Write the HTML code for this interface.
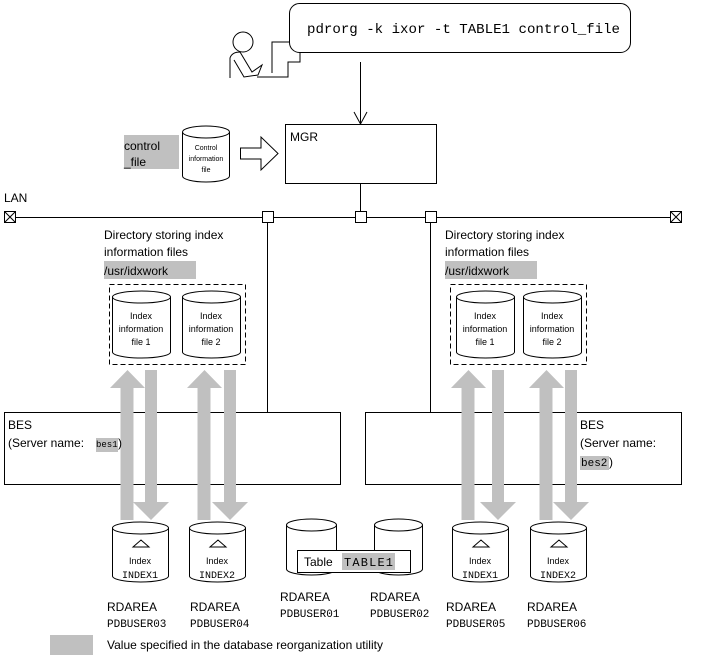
<!DOCTYPE html>
<html><head><meta charset="utf-8"><style>
html,body{margin:0;padding:0;background:#fff}
svg{display:block}
text{font-family:"Liberation Sans",sans-serif;font-size:12px;fill:#000}
.m{font-family:"Liberation Mono",monospace}
</style></head><body>
<svg width="701" height="658" viewBox="0 0 701 658" xmlns="http://www.w3.org/2000/svg">
<defs>
<g id="up"><polygon points="0,18 17.5,0 35,18 23.5,18 23.5,150 10.5,150 10.5,18" fill="#c0c0c0"/></g>
<g id="dn"><polygon points="12,0 24,0 24,132 36,132 18,150 0,132 12,132" fill="#c0c0c0"/></g>
</defs>
<g fill="none" stroke="#000" stroke-width="1">
<rect x="289.5" y="3.5" width="341" height="49" rx="10"/>
<circle cx="243" cy="42" r="10"/>
<path d="M230 78 V58 Q232 52 240 52 L252 72 L262 65 L258 75 L244 77 L234 60"/>
<path d="M257 77 H288 V62 H300 V52"/>
<path d="M272 73 V42 H289"/>
<path d="M360.5 62 V123 M354 112 L360.5 124 L367 112"/>
<rect x="285.5" y="124.5" width="151" height="59"/>
<path d="M182.5 132 V176 A23.5 6 0 0 0 229.5 176 V132"/>
<ellipse cx="206" cy="132" rx="23.5" ry="6"/>
<path d="M240.5 148 H261 V137 L278 153.5 L261 170 V159 H240.5 Z"/>
<path d="M15 217.5 H670"/>
<rect x="4.5" y="211.5" width="11" height="11"/><path d="M4.5 211.5 L15.5 222.5 M15.5 211.5 L4.5 222.5"/>
<rect x="670.5" y="211.5" width="11" height="11"/><path d="M670.5 211.5 L681.5 222.5 M681.5 211.5 L670.5 222.5"/>
<rect x="262.5" y="211.5" width="11" height="11" fill="#fff"/>
<rect x="355.5" y="211.5" width="11" height="11" fill="#fff"/>
<rect x="425.5" y="211.5" width="11" height="11" fill="#fff"/>
<path d="M360.5 184 V211 M267.5 223 V412 M430.5 223 V412"/>
<rect x="109.5" y="284.5" width="136" height="80" stroke-dasharray="5,3"/>
<rect x="450.5" y="284.5" width="136" height="80" stroke-dasharray="5,3"/>
</g>
<g fill="#c0c0c0">
<rect x="124" y="135" width="55" height="34"/>
<rect x="104" y="261" width="92" height="18"/>
<rect x="445" y="261" width="92" height="18"/>
<rect x="50" y="635" width="43" height="20"/>
</g>
<rect x="4.5" y="412.5" width="336" height="72" fill="#fff" stroke="#000"/>
<rect x="365.5" y="412.5" width="316" height="72" fill="#fff" stroke="#000"/>
<rect x="96" y="438" width="22" height="14" fill="#c0c0c0"/>
<rect x="580" y="456" width="29" height="14" fill="#c0c0c0"/>
<use href="#up" x="110" y="370"/><use href="#dn" x="133" y="370"/>
<use href="#up" x="187" y="370"/><use href="#dn" x="212" y="370"/>
<use href="#up" x="451" y="370"/><use href="#dn" x="480" y="370"/>
<use href="#up" x="529" y="370"/><use href="#dn" x="553" y="370"/>
<g fill="#fff" stroke="#000">
<path d="M112.5 297 V352 A29 6 0 0 0 170.5 352 V297"/><ellipse cx="141.5" cy="297" rx="29" ry="6"/>
<path d="M182.5 297 V352 A29 6 0 0 0 240.5 352 V297"/><ellipse cx="211.5" cy="297" rx="29" ry="6"/>
<path d="M456.5 297 V352 A29 6 0 0 0 514.5 352 V297"/><ellipse cx="485.5" cy="297" rx="29" ry="6"/>
<path d="M523.5 297 V352 A29 6 0 0 0 581.5 352 V297"/><ellipse cx="552.5" cy="297" rx="29" ry="6"/>
<path d="M112.5 528 V576 A28 6 0 0 0 168.5 576 V528"/><ellipse cx="140.5" cy="528" rx="28" ry="6"/>
<path d="M189.5 528 V576 A28 6 0 0 0 245.5 576 V528"/><ellipse cx="217.5" cy="528" rx="28" ry="6"/>
<path d="M452.5 528 V576 A28 6 0 0 0 508.5 576 V528"/><ellipse cx="480.5" cy="528" rx="28" ry="6"/>
<path d="M530.5 528 V576 A28 6 0 0 0 586.5 576 V528"/><ellipse cx="558.5" cy="528" rx="28" ry="6"/>
<path d="M286.5 525 V569 A25 6 0 0 0 336.5 569 V525"/><ellipse cx="311.5" cy="525" rx="25" ry="6"/>
<path d="M374.5 525 V569 A24 6 0 0 0 422.5 569 V525"/><ellipse cx="398.5" cy="525" rx="24" ry="6"/>
<rect x="297.5" y="550.5" width="113" height="22"/>
</g>
<rect x="342" y="553" width="53" height="17" fill="#c0c0c0"/>
<g fill="none" stroke="#000">
<path d="M133 547 L141 540 L149 547 Z M210 547 L218 540 L226 547 Z M473 547 L481 540 L489 547 Z M551 547 L559 540 L567 547 Z"/>
</g>
<text x="307" y="33" class="m" style="font-size:14px" textLength="313" lengthAdjust="spacingAndGlyphs">pdrorg -k ixor -t TABLE1 control_file</text>
<text x="290" y="141">MGR</text>
<text x="124" y="150">control</text>
<text x="124" y="166">_file</text>
<text x="206" y="150" text-anchor="middle" style="font-size:7px">Control</text>
<text x="206" y="161" text-anchor="middle" style="font-size:7px">information</text>
<text x="206" y="172" text-anchor="middle" style="font-size:7px">file</text>
<text x="4" y="202">LAN</text>
<text x="104" y="239">Directory storing index</text>
<text x="104" y="256">information files</text>
<text x="104" y="275">/usr/idxwork</text>
<text x="445" y="239">Directory storing index</text>
<text x="445" y="256">information files</text>
<text x="445" y="275">/usr/idxwork</text>
<g text-anchor="middle">
<text x="141" y="319" style="font-size:9px">Index</text><text x="141" y="332" style="font-size:9px">information</text><text x="141" y="345" style="font-size:9px">file 1</text>
<text x="211" y="319" style="font-size:9px">Index</text><text x="211" y="332" style="font-size:9px">information</text><text x="211" y="345" style="font-size:9px">file 2</text>
<text x="485" y="319" style="font-size:9px">Index</text><text x="485" y="332" style="font-size:9px">information</text><text x="485" y="345" style="font-size:9px">file 1</text>
<text x="552" y="319" style="font-size:9px">Index</text><text x="552" y="332" style="font-size:9px">information</text><text x="552" y="345" style="font-size:9px">file 2</text>
<text x="140" y="564" style="font-size:9px">Index</text><text x="140" y="578" class="m" style="font-size:10px">INDEX1</text>
<text x="217" y="564" style="font-size:9px">Index</text><text x="217" y="578" class="m" style="font-size:10px">INDEX2</text>
<text x="480" y="564" style="font-size:9px">Index</text><text x="480" y="578" class="m" style="font-size:10px">INDEX1</text>
<text x="558" y="564" style="font-size:9px">Index</text><text x="558" y="578" class="m" style="font-size:10px">INDEX2</text>
</g>
<text x="8" y="429">BES</text>
<text x="8" y="447">(Server name:</text>
<text x="96" y="447" class="m" style="font-size:9px">bes1</text>
<text x="118" y="447">)</text>
<text x="580" y="429">BES</text>
<text x="580" y="447">(Server name:</text>
<text x="581" y="466" class="m" style="font-size:11px">bes2</text>
<text x="609" y="466">)</text>
<text x="304" y="566">Table</text>
<text x="344" y="566" class="m" style="font-size:12px" textLength="49">TABLE1</text>
<text x="107" y="611">RDAREA</text><text x="107" y="627" class="m" style="font-size:11px">PDBUSER03</text>
<text x="190" y="611">RDAREA</text><text x="190" y="627" class="m" style="font-size:11px">PDBUSER04</text>
<text x="280" y="601">RDAREA</text><text x="280" y="617" class="m" style="font-size:11px">PDBUSER01</text>
<text x="370" y="601">RDAREA</text><text x="370" y="617" class="m" style="font-size:11px">PDBUSER02</text>
<text x="446" y="611">RDAREA</text><text x="446" y="627" class="m" style="font-size:11px">PDBUSER05</text>
<text x="527" y="611">RDAREA</text><text x="527" y="627" class="m" style="font-size:11px">PDBUSER06</text>
<text x="107" y="649">Value specified in the database reorganization utility</text>
</svg>
</body></html>
